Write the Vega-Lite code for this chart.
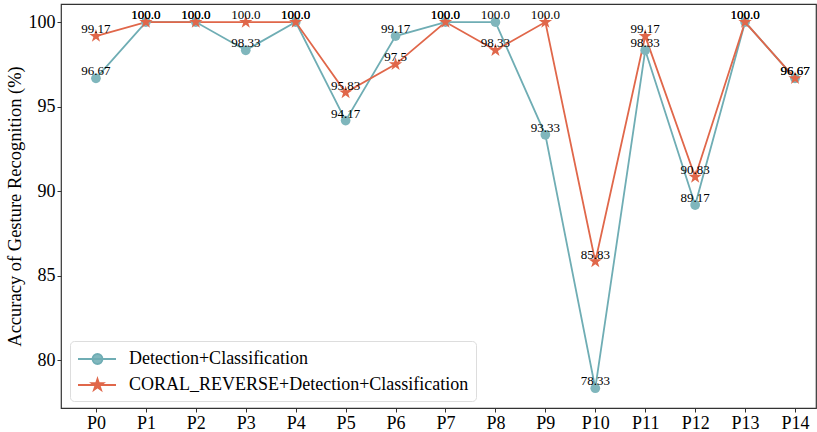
{
  "$schema": "https://vega.github.io/schema/vega-lite/v6.json",
  "width": 755,
  "height": 404,
  "autosize": {"type": "none"},
  "padding": {"left": 61, "top": 4, "right": 1, "bottom": 24},
  "background": "white",
  "config": {
    "font": "Liberation Serif",
    "view": {"stroke": "#333333", "strokeWidth": 1.2},
    "axis": {
      "grid": false,
      "domain": false,
      "tickColor": "#333333",
      "tickSize": 4,
      "tickWidth": 1,
      "labelFont": "Liberation Serif",
      "labelFontSize": 18,
      "labelColor": "black",
      "titleFont": "Liberation Serif",
      "titleFontSize": 18.5,
      "titleFontWeight": "normal",
      "titleColor": "black"
    }
  },
  "data": {
    "values": [
      {"p": 0, "series": "Detection+Classification", "acc": 96.67},
      {"p": 1, "series": "Detection+Classification", "acc": 100},
      {"p": 2, "series": "Detection+Classification", "acc": 100},
      {"p": 3, "series": "Detection+Classification", "acc": 98.33},
      {"p": 4, "series": "Detection+Classification", "acc": 100},
      {"p": 5, "series": "Detection+Classification", "acc": 94.17},
      {"p": 6, "series": "Detection+Classification", "acc": 99.17},
      {"p": 7, "series": "Detection+Classification", "acc": 100},
      {"p": 8, "series": "Detection+Classification", "acc": 100},
      {"p": 9, "series": "Detection+Classification", "acc": 93.33},
      {"p": 10, "series": "Detection+Classification", "acc": 78.33},
      {"p": 11, "series": "Detection+Classification", "acc": 98.33},
      {"p": 12, "series": "Detection+Classification", "acc": 89.17},
      {"p": 13, "series": "Detection+Classification", "acc": 100},
      {"p": 14, "series": "Detection+Classification", "acc": 96.67},
      {"p": 0, "series": "CORAL_REVERSE+Detection+Classification", "acc": 99.17},
      {"p": 1, "series": "CORAL_REVERSE+Detection+Classification", "acc": 100},
      {"p": 2, "series": "CORAL_REVERSE+Detection+Classification", "acc": 100},
      {"p": 3, "series": "CORAL_REVERSE+Detection+Classification", "acc": 100},
      {"p": 4, "series": "CORAL_REVERSE+Detection+Classification", "acc": 100},
      {"p": 5, "series": "CORAL_REVERSE+Detection+Classification", "acc": 95.83},
      {"p": 6, "series": "CORAL_REVERSE+Detection+Classification", "acc": 97.5},
      {"p": 7, "series": "CORAL_REVERSE+Detection+Classification", "acc": 100},
      {"p": 8, "series": "CORAL_REVERSE+Detection+Classification", "acc": 98.33},
      {"p": 9, "series": "CORAL_REVERSE+Detection+Classification", "acc": 100},
      {"p": 10, "series": "CORAL_REVERSE+Detection+Classification", "acc": 85.83},
      {"p": 11, "series": "CORAL_REVERSE+Detection+Classification", "acc": 99.17},
      {"p": 12, "series": "CORAL_REVERSE+Detection+Classification", "acc": 90.83},
      {"p": 13, "series": "CORAL_REVERSE+Detection+Classification", "acc": 100},
      {"p": 14, "series": "CORAL_REVERSE+Detection+Classification", "acc": 96.67}
    ]
  },
  "transform": [
    {"calculate": "datum.acc % 1 === 0 ? format(datum.acc, '.1f') : '' + datum.acc", "as": "txt"}
  ],
  "encoding": {
    "x": {
      "field": "p",
      "type": "quantitative",
      "scale": {"domain": [-0.7, 14.42], "nice": false, "zero": false},
      "axis": {
        "title": null,
        "values": [0, 1, 2, 3, 4, 5, 6, 7, 8, 9, 10, 11, 12, 13, 14],
        "labelExpr": "'P' + datum.value",
        "labelPadding": 2
      }
    },
    "y": {
      "field": "acc",
      "type": "quantitative",
      "scale": {"domain": [77.16, 101.07], "nice": false, "zero": false},
      "axis": {
        "title": "Accuracy of Gesture Recognition (%)",
        "values": [80, 85, 90, 95, 100],
        "labelPadding": 2,
        "titlePadding": 4
      }
    }
  },
  "layer": [
    {
      "mark": {"type": "point", "opacity": 0},
      "encoding": {
        "fill": {
          "field": "series",
          "type": "nominal",
          "scale": {
            "domain": ["Detection+Classification", "CORAL_REVERSE+Detection+Classification"],
            "range": ["#82b8be", "#e0674a"]
          },
          "legend": {
            "title": null, "orient": "none", "legendX": 9, "legendY": 337, "direction": "vertical",
            "fillColor": "white", "strokeColor": "#dddddd", "cornerRadius": 4, "padding": 7,
            "symbolSize": 400, "symbolStrokeWidth": 1.8, "symbolOpacity": 1, "labelOffset": 30,
            "labelFont": "Liberation Serif", "labelFontSize": 18, "labelColor": "black", "labelLimit": 500, "rowPadding": 6
          }
        },
        "stroke": {
          "field": "series",
          "type": "nominal",
          "scale": {
            "domain": ["Detection+Classification", "CORAL_REVERSE+Detection+Classification"],
            "range": ["#6fadb4", "#e0674a"]
          },
          "legend": {
            "title": null, "orient": "none", "legendX": 9, "legendY": 337, "direction": "vertical",
            "fillColor": "white", "strokeColor": "#dddddd", "cornerRadius": 4, "padding": 7,
            "symbolSize": 400, "symbolStrokeWidth": 1.8, "symbolOpacity": 1, "labelOffset": 30,
            "labelFont": "Liberation Serif", "labelFontSize": 18, "labelColor": "black", "labelLimit": 500, "rowPadding": 6
          }
        },
        "shape": {
          "field": "series",
          "type": "nominal",
          "scale": {
            "domain": ["Detection+Classification", "CORAL_REVERSE+Detection+Classification"],
            "range": [
              "M-1,0H2.8M1.45,0A0.5,0.5 0 1,1 0.45,0A0.5,0.5 0 1,1 1.45,0Z",
              "M-1,0H2.8M0.95,-0.6L1.085,-0.185L1.521,-0.185L1.168,0.071L1.303,0.485L0.95,0.229L0.597,0.485L0.732,0.071L0.379,-0.185L0.815,-0.185Z"
            ]
          },
          "legend": {
            "title": null, "orient": "none", "legendX": 9, "legendY": 337, "direction": "vertical",
            "fillColor": "white", "strokeColor": "#dddddd", "cornerRadius": 4, "padding": 7,
            "symbolSize": 400, "symbolStrokeWidth": 1.8, "symbolOpacity": 1, "labelOffset": 30,
            "labelFont": "Liberation Serif", "labelFontSize": 18, "labelColor": "black", "labelLimit": 500, "rowPadding": 6
          }
        }
      }
    },
    {
      "mark": {"type": "line", "strokeWidth": 1.8},
      "encoding": {
        "color": {
          "field": "series",
          "type": "nominal",
          "scale": {
            "domain": ["Detection+Classification", "CORAL_REVERSE+Detection+Classification"],
            "range": ["#6fadb4", "#e0674a"]
          },
          "legend": null
        }
      }
    },
    {
      "transform": [{"filter": "datum.series === 'Detection+Classification'"}],
      "mark": {"type": "point", "shape": "circle", "size": 95, "filled": true, "opacity": 1, "strokeWidth": 0, "color": "#7fb6bc"}
    },
    {
      "transform": [{"filter": "datum.series === 'CORAL_REVERSE+Detection+Classification'"}],
      "mark": {"type": "point", "shape": "M0,-1L0.2245,-0.309L0.951,-0.309L0.3633,0.118L0.588,0.809L0,0.382L-0.588,0.809L-0.3633,0.118L-0.951,-0.309L-0.2245,-0.309Z", "size": 196, "filled": true, "opacity": 1, "strokeWidth": 0, "color": "#e0674a"}
    },
    {
      "mark": {"type": "text", "dy": -3, "baseline": "alphabetic", "align": "center", "fontSize": 13, "font": "Liberation Serif", "color": "black"},
      "encoding": {
        "text": {"field": "txt"}
      }
    }
  ]
}
